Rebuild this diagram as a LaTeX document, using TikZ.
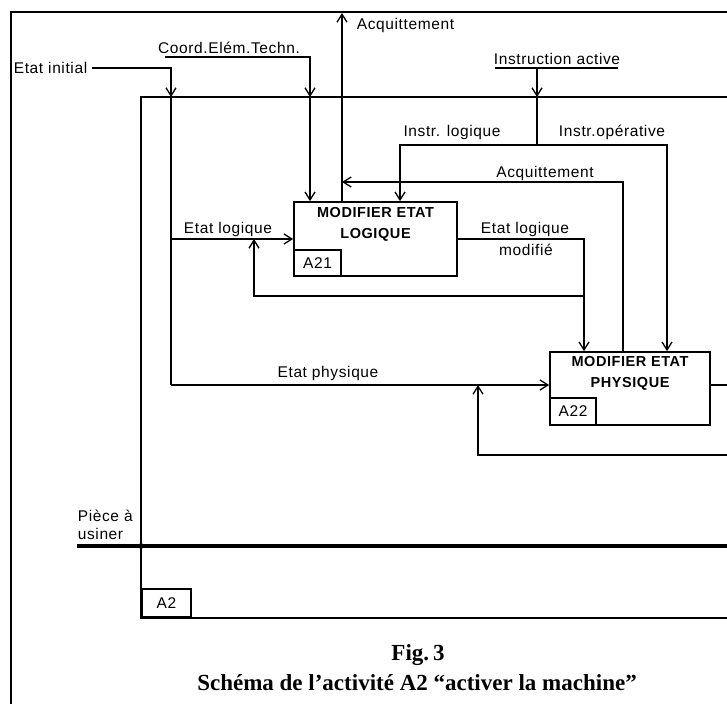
\documentclass[tikz,border=0pt]{standalone}
\usepackage{fontspec}
\setmainfont{Liberation Serif}
\newfontfamily\lab[LetterSpace=4]{Liberation Sans}
\usetikzlibrary{arrows.meta}
\begin{document}
\begin{tikzpicture}[x=1pt,y=-1pt, line width=1.7pt,
  >={Straight Barb[length=8pt,width=10pt,line width=1.3pt]},
  lbl/.style={font=\lab\fontsize{15.5}{18}\selectfont, inner sep=0pt},
  proc/.style={draw, line width=1.7pt, inner sep=0pt},
  ttl/.style={font=\lab\bfseries\fontsize{14.5}{21}\selectfont, align=center, inner sep=0pt},
  idbox/.style={draw, line width=1.7pt, font=\lab\fontsize{15.5}{18}\selectfont, inner sep=0pt, anchor=south west},
  captxt/.style={font=\bfseries\fontsize{23}{27}\selectfont, inner sep=0pt}]
\useasboundingbox (0,0) rectangle (727,703);
\fill[white] (0,0) rectangle (727,703);

% outer frame
\coordinate (oTL) at (11,12);
\coordinate (oTR) at (729,12);
\coordinate (oBL) at (11,705);
\draw (oTR) -- (oTL) -- (oBL);

% inner frame A2
\coordinate (iTL) at (141,97);
\coordinate (iTR) at (729,97);
\coordinate (iBL) at (141,618);
\coordinate (iBR) at (729,618);
\draw (iTR) -- (iTL) -- (iBL) -- (iBR);
\node[idbox, minimum width=49pt, minimum height=28pt] (a2) at (iBL) {A2};

% boxes
\node[proc, minimum width=163pt, minimum height=74pt] (A21) at (375.5,239) {};
\node[ttl, anchor=north] (t21) at ([yshift=-5pt]A21.north) {MODIFIER ETAT\\LOGIQUE};
\node[idbox, minimum width=47pt, minimum height=26pt] (id21) at (A21.south west) {A21};

\node[proc, minimum width=160pt, minimum height=73pt] (A22) at (630,388.5) {};
\node[ttl, anchor=north] (t22) at ([yshift=-4pt]A22.north) {MODIFIER ETAT\\PHYSIQUE};
\node[idbox, minimum width=46pt, minimum height=27pt] (id22) at (A22.south west) {A22};

% Etat initial
\node[lbl, anchor=west] (ei) at (13,68) {Etat initial};
\coordinate (eiTurn) at (171,68);
\coordinate (eiIn) at (171,97);
\coordinate (eiLog) at (171,239);
\coordinate (eiPhy) at (171,385);
\draw[->] ([xshift=4pt]ei.east) -- (eiTurn) -- (eiIn);
\draw (eiIn) -- (eiPhy);
\draw[->] (eiLog) -- (A21.west);
\node[lbl] (lel) at (228,229) {Etat logique};
\draw[->] (eiPhy) -- (A22.west |- eiPhy);
\node[lbl] (lep) at (328,373) {Etat physique};

% Coord. Elem. Techn.
\node[lbl] (cet) at (229,48) {Coord.Elém.Techn.};
\coordinate (cetL) at (165,57);
\coordinate (cetR) at (310,57);
\coordinate (cetIn) at (310,97);
\draw[->] (cetL) -- (cetR) -- (cetIn);
\draw[->] (cetIn) -- (A21.north -| cetR);

% Acquittement (top output)
\coordinate (acqTop) at (342,13);
\draw[->] (A21.north -| acqTop) -- (acqTop);
\node[lbl, anchor=west] (lacq) at (356,25) {Acquittement};

% Acquittement from A22
\coordinate (acq2a) at (623,182);
\coordinate (acq2b) at (342,182);
\draw[->] (A22.north -| acq2a) -- (acq2a) -- (acq2b);
\node[lbl] (lacq2) at (545,173) {Acquittement};

% Instruction active
\node[lbl] (ia) at (557,59) {Instruction active};
\coordinate (iaL) at (495,68);
\coordinate (iaR) at (618,68);
\coordinate (iaT) at (537,68);
\coordinate (iaIn) at (537,97);
\coordinate (iaSplit) at (537,145);
\coordinate (ilTurn) at (400,145);
\coordinate (ioTurn) at (667,145);
\draw (iaL) -- (iaR);
\draw[->] (iaT) -- (iaIn);
\draw (iaIn) -- (iaSplit);
\draw[->] (iaSplit) -- (ilTurn) -- (A21.north -| ilTurn);
\draw[->] (iaSplit) -- (ioTurn) -- (A22.north -| ioTurn);
\node[lbl] (lil) at (452,132) {Instr. logique};
\node[lbl] (lio) at (612,132) {Instr.opérative};

% Etat logique modifie
\coordinate (elmTurn) at (584,239);
\coordinate (fbR) at (584,296);
\coordinate (fbL) at (254,296);
\coordinate (fbUp) at (254,239);
\draw[->] (A21.east) -- (elmTurn) -- (A22.north -| elmTurn);
\node[lbl] (lelm1) at (525,229) {Etat logique};
\node[lbl] (lelm2) at (526,250) {modifié};
\draw[->] (fbR) -- (fbL) -- (fbUp);

% A22 output and feedback
\coordinate (outR) at (729,385);
\draw (A22.east |- outR) -- (outR);
\coordinate (fb2R) at (729,455);
\coordinate (fb2L) at (478,455);
\coordinate (fb2Up) at (478,385);
\draw[->] (fb2R) -- (fb2L) -- (fb2Up);

% Piece a usiner
\node[lbl, anchor=west, align=left] (pu) at (77,525) {Pièce à\\usiner};
\coordinate (puL) at (77,546);
\coordinate (puR) at (729,546);
\coordinate (puDot) at (141,546);
\draw[line width=3.2pt] (puL) -- (puR);
\fill (puDot) circle (2.8pt);

% caption
\node[captxt] (fig) at (418,655) {Fig.\,3};
\node[captxt] (cap2) at (417,683) {Schéma de l’activité A2 “activer la machine”};
\end{tikzpicture}
\end{document}
